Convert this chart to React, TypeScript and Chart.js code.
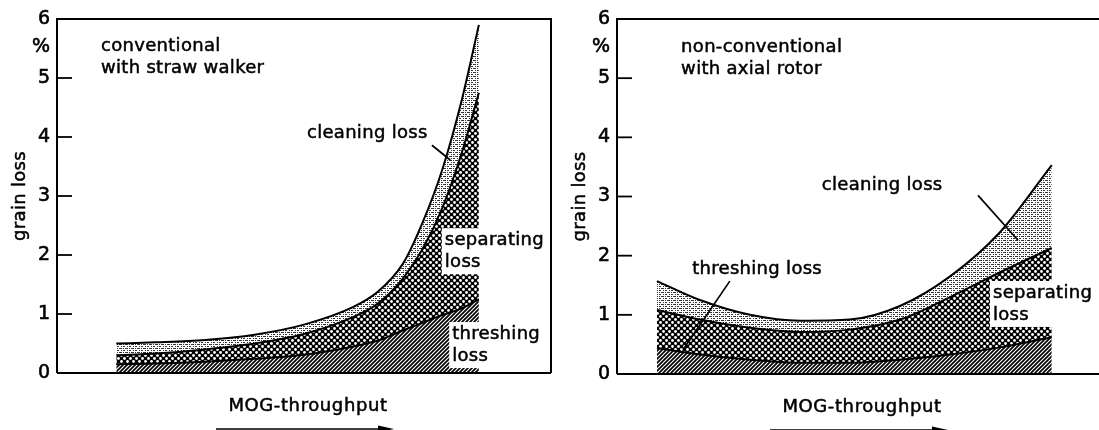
import React, { useEffect, useRef } from 'react';
import { Chart, registerables } from 'chart.js';

Chart.register(...registerables);

const FONT = '"DejaVu Sans", sans-serif';

// y axis
const Y_TICKS = [0, 1, 2, 3, 4, 5, 6];
const Y_UNIT_POS = 5.53;
const Y_UNIT_LABEL = '%';
const Y_TITLE = 'grain loss';
const X_TITLE = 'MOG-throughput';

// left panel: conventional with straw walker (cumulative tops of each layer)
const LEFT_X = [12, 20, 30, 40, 50, 60, 65, 70, 74, 78, 82, 85.4];
const LEFT_THRESHING = [0.15, 0.16, 0.19, 0.24, 0.31, 0.45, 0.55, 0.72, 0.85, 0.98, 1.1, 1.25];
const LEFT_SEPARATING = [0.3, 0.33, 0.4, 0.5, 0.66, 0.95, 1.18, 1.6, 2.1, 2.8, 3.75, 4.75];
const LEFT_CLEANING = [0.5, 0.52, 0.56, 0.65, 0.82, 1.12, 1.38, 1.85, 2.55, 3.45, 4.65, 5.9];

// right panel: non-conventional with axial rotor
const RIGHT_X = [8.3, 17.2, 27.6, 38, 48.3, 58.7, 69.1, 79.5, 90.2];
const RIGHT_THRESHING = [0.44, 0.33, 0.24, 0.19, 0.19, 0.24, 0.33, 0.45, 0.62];
const RIGHT_SEPARATING = [1.08, 0.92, 0.78, 0.71, 0.75, 0.92, 1.3, 1.72, 2.13];
const RIGHT_CLEANING = [1.57, 1.25, 1.0, 0.9, 0.92, 1.15, 1.65, 2.4, 3.53];

// annotations (in data units)
const LEFT_NOTES = [
  { x: 8.9, y: 5.53, lines: ['conventional', 'with straw walker'], bg: false },
  { x: 50.6, y: 4.07, lines: ['cleaning loss'], bg: false },
  { x: 78.5, y: 2.25, lines: ['separating', 'loss'], bg: true },
  { x: 80.0, y: 0.66, lines: ['threshing', 'loss'], bg: true },
];
const LEFT_LEADERS = [[75.9, 3.86, 79.6, 3.61]];

const RIGHT_NOTES = [
  { x: 13.3, y: 5.52, lines: ['non-conventional', 'with axial rotor'], bg: false },
  { x: 42.5, y: 3.19, lines: ['cleaning loss'], bg: false },
  { x: 15.6, y: 1.77, lines: ['threshing loss'], bg: false },
  { x: 78.0, y: 1.37, lines: ['separating', 'loss'], bg: true },
];
const RIGHT_LEADERS = [
  [74.9, 3.02, 83.2, 2.26],
  [23.4, 1.57, 13.7, 0.41],
];

function makeTile(w: number, h: number, draw: (g: CanvasRenderingContext2D) => void) {
  const c = document.createElement('canvas');
  c.width = w;
  c.height = h;
  const g = c.getContext('2d') as CanvasRenderingContext2D;
  draw(g);
  return c;
}

function makePatterns(ctx: CanvasRenderingContext2D) {
  const hatch = makeTile(4, 4, (g) => {
    g.fillStyle = '#fff';
    g.fillRect(0, 0, 4, 4);
    g.strokeStyle = '#000';
    g.lineWidth = 1.7;
    g.beginPath();
    g.moveTo(-1, 5); g.lineTo(5, -1);
    g.moveTo(-1, 1); g.lineTo(1, -1);
    g.moveTo(3, 5); g.lineTo(5, 3);
    g.stroke();
  });
  const checker = makeTile(6, 6, (g) => {
    g.fillStyle = '#000';
    g.fillRect(0, 0, 6, 6);
    g.fillStyle = '#fff';
    g.beginPath(); g.arc(1.5, 1.5, 1.4, 0, Math.PI * 2); g.fill();
    g.beginPath(); g.arc(4.5, 4.5, 1.4, 0, Math.PI * 2); g.fill();
  });
  const rows = ['##.#.#', '......', '.#.##.', '......'];
  const stipple = makeTile(6, 4, (g) => {
    g.fillStyle = '#fff';
    g.fillRect(0, 0, 6, 4);
    g.fillStyle = '#333';
    rows.forEach((r, y) => r.split('').forEach((ch, x) => { if (ch === '#') g.fillRect(x, y, 1, 1); }));
  });
  return {
    hatch: ctx.createPattern(hatch, 'repeat'),
    checker: ctx.createPattern(checker, 'repeat'),
    stipple: ctx.createPattern(stipple, 'repeat'),
  };
}

function boldText(ctx: CanvasRenderingContext2D, t: string, x: number, y: number) {
  ctx.fillText(t, x, y);
  ctx.strokeText(t, x, y);
}

function decorPlugin(notes: any[], leaders: number[][], closed: boolean) {
  return {
    id: 'decor',
    afterDraw(chart: any) {
      const { ctx, chartArea: a, scales } = chart;
      const xs = scales.x;
      const ys = scales.y;
      ctx.save();
      ctx.font = `18px ${FONT}`;
      try { (ctx as any).letterSpacing = '0.3px'; } catch (e) {}
      ctx.textBaseline = 'middle';
      ctx.textAlign = 'left';
      ctx.strokeStyle = '#000';
      for (const n of notes) {
        const px = xs.getPixelForValue(n.x);
        const py = ys.getPixelForValue(n.y);
        const w = Math.max(...n.lines.map((l: string) => ctx.measureText(l).width));
        if (n.bg) {
          ctx.fillStyle = '#fff';
          ctx.fillRect(px - 3, py - 12, w + 6, (n.lines.length - 1) * 22 + 24);
        }
        ctx.fillStyle = '#000';
        ctx.lineWidth = 0.5;
        n.lines.forEach((l: string, i: number) => boldText(ctx, l, px, py + i * 22));
      }
      ctx.lineWidth = 1.7;
      for (const [x1, y1, x2, y2] of leaders) {
        ctx.beginPath();
        ctx.moveTo(xs.getPixelForValue(x1), ys.getPixelForValue(y1));
        ctx.lineTo(xs.getPixelForValue(x2), ys.getPixelForValue(y2));
        ctx.stroke();
      }
      // frame
      ctx.lineWidth = 2;
      const rightEdge = closed ? a.right : chart.width;
      ctx.beginPath();
      ctx.moveTo(a.left, a.bottom);
      ctx.lineTo(a.left, a.top);
      ctx.lineTo(rightEdge, a.top);
      if (closed) ctx.lineTo(a.right, a.bottom);
      ctx.moveTo(a.left, a.bottom);
      ctx.lineTo(rightEdge, a.bottom);
      ctx.stroke();
      // inner ticks
      ctx.lineWidth = 1.8;
      for (const v of Y_TICKS) {
        if (v <= 0 || v >= 6) continue;
        const y = ys.getPixelForValue(v);
        ctx.beginPath();
        ctx.moveTo(a.left, y);
        ctx.lineTo(a.left + 15, y);
        ctx.stroke();
      }
      // y title
      ctx.save();
      ctx.translate(20, (a.top + a.bottom) / 2);
      ctx.rotate(-Math.PI / 2);
      ctx.textAlign = 'center';
      ctx.fillStyle = '#000';
      ctx.lineWidth = 0.5;
      boldText(ctx, Y_TITLE, 0, 0);
      ctx.restore();
      // x title + arrow
      const cx = (a.left + a.right) / 2;
      ctx.textAlign = 'center';
      ctx.fillStyle = '#000';
      try { (ctx as any).letterSpacing = '0.6px'; } catch (e) {}
      ctx.lineWidth = 0.5;
      boldText(ctx, X_TITLE, cx + 4, a.bottom + 33);
      const ay = a.bottom + 56;
      ctx.lineWidth = 1.6;
      ctx.beginPath();
      ctx.moveTo(cx - 88, ay);
      ctx.lineTo(cx + 80, ay);
      ctx.stroke();
      ctx.beginPath();
      ctx.moveTo(cx + 90, ay);
      ctx.lineTo(cx + 74, ay - 3.5);
      ctx.lineTo(cx + 74, ay + 3.5);
      ctx.closePath();
      ctx.fill();
      ctx.restore();
    },
  };
}

function buildChart(
  canvas: HTMLCanvasElement,
  xs: number[],
  thr: number[],
  sep: number[],
  cln: number[],
  notes: any[],
  leaders: number[][],
  closed: boolean,
  padding: any,
) {
  const ctx = canvas.getContext('2d') as CanvasRenderingContext2D;
  const p = makePatterns(ctx);
  const pts = (arr: number[]) => xs.map((x, i) => ({ x, y: arr[i] }));
  const common = {
    borderColor: '#000',
    borderWidth: 2,
    pointRadius: 0,
    cubicInterpolationMode: 'monotone' as const,
  };
  return new Chart(ctx, {
    type: 'line',
    data: {
      datasets: [
        { label: 'threshing loss', data: pts(thr), fill: 'origin', backgroundColor: p.hatch as any, ...common },
        { label: 'separating loss', data: pts(sep), fill: '-1', backgroundColor: p.checker as any, ...common },
        { label: 'cleaning loss', data: pts(cln), fill: '-1', backgroundColor: p.stipple as any, ...common },
      ],
    },
    options: {
      animation: false,
      responsive: false,
      devicePixelRatio: 1,
      layout: { padding },
      plugins: {
        legend: { display: false },
        tooltip: { enabled: false },
        filler: { propagate: false, drawTime: 'beforeDatasetsDraw' } as any,
      },
      scales: {
        x: { type: 'linear', min: 0, max: 100, display: false },
        y: {
          type: 'linear',
          min: 0,
          max: 6,
          grid: { display: false, drawTicks: false },
          border: { display: false },
          afterBuildTicks: (scale: any) => {
            scale.ticks = [...Y_TICKS.map((v) => ({ value: v })), { value: Y_UNIT_POS }];
          },
          afterFit: (scale: any) => {
            scale.width = 57;
          },
          ticks: {
            autoSkip: false,
            padding: 7,
            color: '#000',
            textStrokeColor: '#000',
            textStrokeWidth: 0.6,
            font: { family: FONT, size: 19 },
            callback: (v: any) => (v === Y_UNIT_POS ? Y_UNIT_LABEL : String(v)),
          } as any,
        },
      },
    },
    plugins: [decorPlugin(notes, leaders, closed)],
  });
}

export default function App() {
  const leftRef = useRef<HTMLCanvasElement>(null);
  const rightRef = useRef<HTMLCanvasElement>(null);

  useEffect(() => {
    const c1 = buildChart(
      leftRef.current as HTMLCanvasElement,
      LEFT_X, LEFT_THRESHING, LEFT_SEPARATING, LEFT_CLEANING,
      LEFT_NOTES, LEFT_LEADERS, true,
      { left: 0, right: 9, top: 19, bottom: 57 },
    );
    const c2 = buildChart(
      rightRef.current as HTMLCanvasElement,
      RIGHT_X, RIGHT_THRESHING, RIGHT_SEPARATING, RIGHT_CLEANING,
      RIGHT_NOTES, RIGHT_LEADERS, false,
      { left: 0, right: 0, top: 19, bottom: 56 },
    );
    return () => {
      c1.destroy();
      c2.destroy();
    };
  }, []);

  return (
    <div style={{ position: 'absolute', left: 0, top: 0, width: 1099, height: 430, background: '#fff', overflow: 'hidden' }}>
      <canvas ref={leftRef} width={560} height={430} style={{ position: 'absolute', left: 0, top: 0, width: 560, height: 430 }} />
      <canvas ref={rightRef} width={539} height={430} style={{ position: 'absolute', left: 560, top: 0, width: 539, height: 430 }} />
    </div>
  );
}
